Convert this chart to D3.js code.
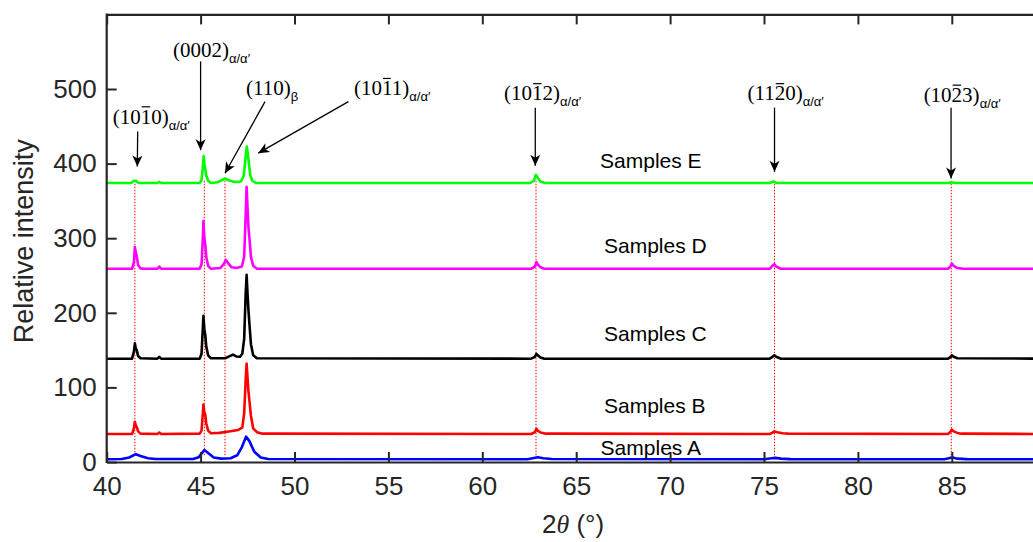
<!DOCTYPE html>
<html>
<head>
<meta charset="utf-8">
<script src="https://cdn.jsdelivr.net/npm/d3@7"></script>
<style>
  html, body { margin: 0; padding: 0; background: #fff; }
  svg { display: block; }
</style>
</head>
<body>
<svg id="chart" width="1033" height="542"></svg>
<script>
// XRD patterns, 2θ (degrees) vs relative intensity, five samples stacked with offsets
const sampleA = [[40,3.6],[40.8,4],[41.2,6],[41.55,10.5],[41.8,8],[42.2,5],[42.6,4],
  [44.6,4],[44.9,6.5],[45.2,16],[45.4,12],[45.7,6],[46.1,4.5],
  [46.6,5],[46.95,9],[47.2,20],[47.42,34],[47.6,28],[47.85,14],[48.2,6],[48.6,4],
  [62.4,3.6],[62.75,5.5],[62.95,6.5],[63.25,5],[63.7,4],
  [75.0,3.6],[75.4,5],[75.6,5.5],[75.9,4.5],[76.4,3.8],
  [84.6,3.6],[84.9,5.5],[85.05,6],[85.3,4.5],[85.8,3.8],[90,3.6]];

const sampleB = [[40,37.5],[41.35,37.5],[41.45,45],[41.5,54],[41.55,49],[41.6,47],[41.67,41],[41.8,38],
  [42.7,37.5],[42.8,39.5],[42.9,37.5],
  [44.95,38],[45.05,42],[45.12,65],[45.15,77],[45.2,67],[45.25,63],[45.3,52],[45.4,42],[45.55,38.5],
  [46.0,39],[46.5,41],[47.0,43],[47.22,46],[47.32,65],[47.4,110],[47.45,132],[47.5,112],[47.55,94],[47.6,82],[47.68,62],[47.8,45],[48.0,40],[48.3,38],
  [62.6,37.5],[62.8,40],[62.88,44.5],[62.95,42],[63.1,39.5],[63.4,38],
  [75.3,37.5],[75.45,39.5],[75.55,41],[75.7,40],[76.0,38.5],[76.3,38],
  [84.8,37.5],[84.95,41],[85.0,43.5],[85.1,41],[85.3,39],[85.5,38],[90,37.5]];

const sampleC = [[40,138.5],[41.35,138.5],[41.45,148],[41.5,159],[41.55,152],[41.6,150],[41.67,142],[41.8,139],
  [42.7,138.5],[42.8,141],[42.9,138.5],
  [44.95,138.5],[45.05,145],[45.12,180],[45.15,196],[45.2,178],[45.25,170],[45.3,155],[45.4,143],[45.55,139],
  [46.3,139],[46.55,142],[46.72,144],[46.9,141.5],[47.1,141],[47.22,145],[47.32,165],[47.4,225],[47.45,251],[47.5,225],[47.55,203],[47.6,185],[47.68,158],[47.8,143],[48.0,139],
  [62.6,138.5],[62.8,141],[62.88,145],[62.95,143],[63.1,140],[63.3,138.5],
  [75.3,138.5],[75.45,141],[75.55,143],[75.65,141],[75.9,138.5],
  [84.8,138.5],[84.95,141],[85.0,143],[85.1,141],[85.3,139],[90,138.5]];

const sampleD = [[40,259],[41.35,259],[41.45,268],[41.5,288],[41.55,281],[41.6,276],[41.67,264],[41.8,259.5],[42.0,259],
  [42.7,259],[42.8,262],[42.9,259],
  [44.95,259],[45.05,265],[45.12,300],[45.15,323],[45.2,300],[45.25,291],[45.3,275],[45.4,263],[45.55,259],
  [46.05,260],[46.25,266],[46.35,271],[46.45,267],[46.65,261],[46.9,260],
  [47.2,262],[47.32,275],[47.4,330],[47.45,369],[47.5,340],[47.55,314],[47.6,300],[47.68,275],[47.8,263],[48.0,259],
  [62.6,259],[62.8,262],[62.88,268],[62.95,265],[63.1,261],[63.3,259],
  [75.3,259],[75.45,263],[75.55,265],[75.65,262],[75.9,259],
  [84.8,259],[84.95,263],[85.0,266],[85.1,263],[85.3,260],[85.6,259],[90,259]];

const sampleE = [[40,374],[41.3,374],[41.45,377],[41.55,377],[41.7,374],
  [42.7,374],[42.8,375.5],[42.9,374],
  [44.95,374],[45.05,378],[45.12,395],[45.16,410],[45.2,400],[45.25,392],[45.3,384],[45.4,377],[45.55,374],
  [45.9,375],[46.15,378],[46.3,380],[46.45,378],[46.8,375.5],
  [47.15,376],[47.3,384],[47.4,410],[47.46,423],[47.52,412],[47.58,398],[47.65,384],[47.75,377],[47.95,374],
  [62.55,374],[62.75,377],[62.85,385],[62.95,381],[63.1,376],[63.35,374],
  [75.3,374],[75.5,376],[75.7,374],
  [84.85,374],[85.0,375],[85.15,374],[90,374]];

const seriesNames = ["Samples A", "Samples B", "Samples C", "Samples D", "Samples E"];
const seriesColors = ["#0000ff", "#ff0000", "#000000", "#ff00ff", "#00ff00"];
const seriesData = [sampleA, sampleB, sampleC, sampleD, sampleE];
// label anchor (2θ, intensity) for each sample name
const seriesLabelPos = [[66.3, 18.8], [66.48, 76.4], [66.48, 172.9], [66.48, 290.8], [66.27, 404.8]];

// reflection positions marked with dotted guides
const peakPositions = [41.5, 45.2, 46.3, 62.86, 75.56, 84.97];
const guideRange = [9, 378];

// reflection annotations: text, overlined char index, subscript, label anchor, arrow tail, arrow tip
const reflections = [
  { main: "(1010)", bar: 3, sub: "α/α′", label: [40.32, 463], tail: [41.65, 443], tip: [41.63, 396] },
  { main: "(0002)", bar: -1, sub: "α/α′", label: [43.53, 552], tail: [45.0, 537], tip: [45.0, 418] },
  { main: "(110)",  bar: -1, sub: "β",    label: [47.42, 501], tail: [48.43, 483], tip: [46.3, 387] },
  { main: "(1011)", bar: 3, sub: "α/α′", label: [53.17, 501], tail: [52.87, 483], tip: [48.07, 414] },
  { main: "(1012)", bar: 3, sub: "α/α′", label: [61.16, 494], tail: [62.82, 475], tip: [62.82, 397] },
  { main: "(1120)", bar: 3, sub: "α/α′", label: [74.12, 494], tail: [75.56, 475], tip: [75.56, 389] },
  { main: "(1023)", bar: 3, sub: "α/α′", label: [83.5, 492], tail: [84.96, 475], tip: [84.96, 380] }
];

const xTicks = [40, 45, 50, 55, 60, 65, 70, 75, 80, 85];
const yTicks = [0, 100, 200, 300, 400, 500];
const xDomain = [40, 90];
const yDomain = [0, 600];

const svg = d3.select("#chart");
const W = 1033, H = 542;
const plot = { left: 106.7, top: 14.4, bottom: 462, right: 106.7 + 939 };

const x = d3.scaleLinear().domain(xDomain).range([plot.left, plot.right]);
const y = d3.scaleLinear().domain(yDomain).range([plot.bottom, plot.top]);

svg.append("rect").attr("width", W).attr("height", H).attr("fill", "#fff");

svg.append("defs").append("clipPath").attr("id", "plotClip")
  .append("rect").attr("x", plot.left).attr("y", plot.top)
  .attr("width", plot.right - plot.left).attr("height", plot.bottom - plot.top);

// dotted guides at reflection positions
svg.append("g").selectAll("line").data(peakPositions).join("line")
  .attr("x1", d => x(d)).attr("x2", d => x(d))
  .attr("y1", y(guideRange[0])).attr("y2", y(guideRange[1]))
  .attr("stroke", "#ff0000").attr("stroke-width", 1)
  .attr("stroke-dasharray", "1.5,1.5");

// diffraction traces
const line = d3.line().x(d => x(d[0])).y(d => y(d[1]));
svg.append("g").attr("clip-path", "url(#plotClip)")
  .selectAll("path").data(seriesData).join("path")
  .attr("d", line)
  .attr("fill", "none")
  .attr("stroke", (d, i) => seriesColors[i])
  .attr("stroke-width", 2.6)
  .attr("stroke-linejoin", "round");

// sample names
svg.append("g").selectAll("text").data(seriesNames).join("text")
  .attr("x", (d, i) => x(seriesLabelPos[i][0]))
  .attr("y", (d, i) => y(seriesLabelPos[i][1]))
  .attr("dominant-baseline", "central")
  .attr("font-family", "Liberation Sans, Arial, sans-serif")
  .attr("font-size", 21)
  .attr("fill", "#000")
  .text(d => d);

// axes
const axisColor = "#262626";
const tickFont = "Liberation Sans, Arial, sans-serif";

const gx = svg.append("g").attr("transform", `translate(0,${plot.bottom})`)
  .call(d3.axisBottom(x).tickValues(xTicks).tickSize(-10).tickSizeOuter(0).tickPadding(15).tickFormat(d3.format("d")));
const gxTop = svg.append("g").attr("transform", `translate(0,${plot.top})`)
  .call(d3.axisTop(x).tickValues(xTicks).tickSize(-10).tickSizeOuter(0).tickFormat(""));
const gy = svg.append("g").attr("transform", `translate(${plot.left},0)`)
  .call(d3.axisLeft(y).tickValues(yTicks).tickSize(-10).tickSizeOuter(0).tickPadding(10).tickFormat(d3.format("d")));

[gx, gxTop, gy].forEach(g => {
  g.select(".domain").attr("stroke", axisColor).attr("stroke-width", 2.2);
  g.selectAll(".tick line").attr("stroke", axisColor).attr("stroke-width", 2);
  g.selectAll("text").attr("fill", axisColor).attr("font-family", tickFont).attr("font-size", 26);
});
// extend left spine to the top edge of the frame
gy.select(".domain").attr("d", `M0,${plot.bottom + 1}V${plot.top - 1}`);

// axis titles
svg.append("text")
  .attr("transform", `translate(24,${(plot.top + plot.bottom) / 2 + 3}) rotate(-90)`)
  .attr("text-anchor", "middle").attr("dominant-baseline", "central")
  .attr("font-family", tickFont).attr("font-size", 27).attr("fill", axisColor)
  .text("Relative intensity");

const xt = svg.append("text")
  .attr("x", 573).attr("y", 533)
  .attr("text-anchor", "middle")
  .attr("font-family", tickFont).attr("font-size", 26).attr("fill", axisColor);
xt.append("tspan").text("2");
xt.append("tspan").attr("font-style", "italic").attr("font-family", "Liberation Serif, serif").text("θ");
xt.append("tspan").text(" (°)");

// reflection annotations with arrows
const defs = svg.select("defs");
defs.append("marker").attr("id", "head")
  .attr("viewBox", "-12 -6 13 12").attr("refX", 0).attr("refY", 0)
  .attr("markerWidth", 13).attr("markerHeight", 12)
  .attr("markerUnits", "userSpaceOnUse").attr("orient", "auto")
  .append("path").attr("d", "M0,0 L-11,-5 L-8,0 L-11,5 Z").attr("fill", "#000");

const ann = svg.append("g");
reflections.forEach(r => {
  ann.append("line")
    .attr("x1", x(r.tail[0])).attr("y1", y(r.tail[1]))
    .attr("x2", x(r.tip[0])).attr("y2", y(r.tip[1]))
    .attr("stroke", "#000").attr("stroke-width", 1.3)
    .attr("marker-end", "url(#head)");

  const fs = 21;
  const t = ann.append("text")
    .attr("x", x(r.label[0])).attr("y", y(r.label[1]) + 7)
    .attr("font-family", "Liberation Serif, Times New Roman, serif")
    .attr("font-size", fs).attr("fill", "#000");
  t.append("tspan").text(r.main);
  t.append("tspan").attr("dy", 6)
    .attr("font-family", "Liberation Sans, Arial, sans-serif")
    .attr("font-size", 13).text(r.sub);

  if (r.bar >= 0) {
    const s = t.node().getStartPositionOfChar(r.bar);
    const e = t.node().getEndPositionOfChar(r.bar);
    ann.append("line")
      .attr("x1", s.x + 1).attr("x2", e.x - 1)
      .attr("y1", s.y - fs * 0.8).attr("y2", s.y - fs * 0.8)
      .attr("stroke", "#000").attr("stroke-width", 1.2);
  }
});
</script>
</body>
</html>
